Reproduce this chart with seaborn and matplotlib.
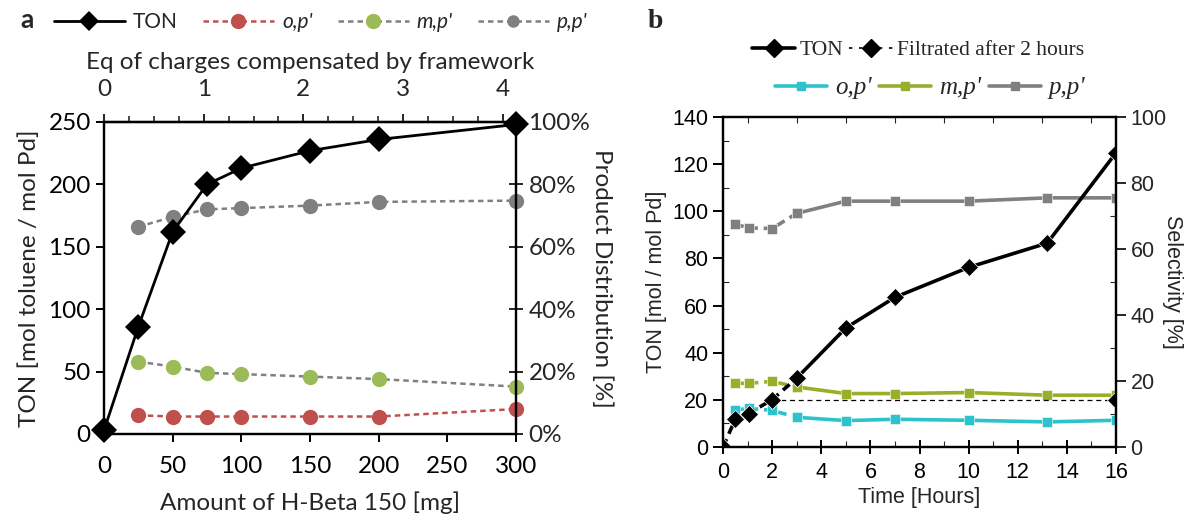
import numpy as np
import pandas as pd
import matplotlib
matplotlib.use("Agg")
import matplotlib.pyplot as plt
import seaborn as sns
from matplotlib.lines import Line2D
from matplotlib.ticker import MultipleLocator, PercentFormatter

# ---------------- data: panel a ----------------
mg_ton = [0, 25, 50, 75, 100, 150, 200, 300]
ton_a = [3, 86, 162, 200, 213, 227, 236, 248]
mg_dist = [25, 50, 75, 100, 150, 200, 300]
op_a = [6.0, 5.6, 5.6, 5.6, 5.6, 5.6, 8.0]
mp_a = [23.2, 21.6, 19.6, 19.2, 18.4, 17.6, 15.2]
pp_a = [66.4, 69.6, 72.0, 72.4, 73.2, 74.4, 74.8]
MG_PER_EQ = 72.6
labels_a = ["TON", "o,p'", "m,p'", "p,p'"]

# ---------------- data: panel b ----------------
t_ton = [0, 0.5, 1.05, 2, 3, 5, 7, 10, 13.2, 16]
ton_b = [0, 11.8, 14.2, 20.1, 29.2, 50.5, 63.5, 76.2, 86.5, 124.8]
t_filt = [0, 0.5, 1.05, 2, 16]
ton_filt = [0, 11.8, 14.2, 20.1, 20.1]
t_sel = [0.5, 1.05, 2, 3, 5, 7, 10, 13.2, 16]
op_b = [11.2, 11.7, 11.1, 9.0, 8.0, 8.4, 8.1, 7.6, 8.1]
mp_b = [19.3, 19.3, 19.9, 18.2, 16.2, 16.2, 16.5, 15.7, 15.7]
pp_b = [67.5, 66.4, 66.2, 70.8, 74.5, 74.5, 74.5, 75.5, 75.5]
labels_b = ["TON", "Filtrated after 2 hours", "o,p'", "m,p'", "p,p'"]

sns.set_theme(style="ticks")
plt.rcParams["font.family"] = ["Lato", "DejaVu Sans"]
plt.rcParams["axes.linewidth"] = 1.6

fig = plt.figure(figsize=(11.93, 5.18), dpi=100)

# ================= panel a =================
FA = ["Lato", "DejaVu Sans"]
fs_a = 17.5
axa = fig.add_axes([104/1193, 1-434/518, (516-104)/1193, (434-122)/518])
axa2 = axa.twinx()
axa.set_zorder(axa2.get_zorder() + 1)
axa.patch.set_visible(False)

RED = "#C0504D"
GREEN = "#9BBB59"
GREY = "#808080"

dash_a = (2.2, 1.6)
sns.lineplot(x=mg_dist, y=op_a, ax=axa2, color=RED, marker="o", markersize=11,
             markeredgewidth=0, linewidth=1.8, linestyle=(0, dash_a), clip_on=False)
sns.lineplot(x=mg_dist, y=mp_a, ax=axa2, color=GREY, marker="o", markersize=11,
             markerfacecolor=GREEN, markeredgewidth=0, linewidth=1.8, linestyle=(0, dash_a),
             clip_on=False)
sns.lineplot(x=mg_dist, y=pp_a, ax=axa2, color=GREY, marker="o", markersize=11,
             markerfacecolor=GREY, markeredgewidth=0, linewidth=1.8, linestyle=(0, dash_a),
             clip_on=False)
sns.lineplot(x=mg_ton, y=ton_a, ax=axa, color="black", marker="D", markersize=13,
             markeredgewidth=0, linewidth=2.0, clip_on=False, zorder=5)

axa.set_xlim(0, 300)
axa.set_ylim(0, 250)
axa2.set_ylim(0, 100)
axa.set_xticks(np.arange(0, 301, 50))
axa.set_yticks(np.arange(0, 251, 50))
axa2.set_yticks(np.arange(0, 101, 20))
axa2.yaxis.set_major_formatter(PercentFormatter(decimals=0))
for a in (axa, axa2):
    for s in a.spines.values():
        s.set_visible(True)
        s.set_color("black")
        s.set_linewidth(1.6)
axa.tick_params(axis="both", direction="out", length=6, width=1.4, labelsize=fs_a, colors="black")
axa.tick_params(axis="x", pad=10)
axa2.tick_params(axis="y", direction="inout", length=10, width=1.4, labelsize=fs_a, pad=4)
for lab in axa.get_xticklabels() + axa.get_yticklabels() + axa2.get_yticklabels():
    lab.set_family(FA)

secx = axa.secondary_xaxis("top", functions=(lambda m: m / MG_PER_EQ, lambda e: e * MG_PER_EQ))
secx.set_xticks([0, 1, 2, 3, 4])
secx.xaxis.set_minor_locator(MultipleLocator(0.25))
secx.tick_params(axis="x", which="major", direction="out", length=6, width=1.4, labelsize=fs_a, pad=10)
secx.tick_params(axis="x", which="minor", direction="out", length=4, width=1.2)
secx.spines["top"].set_linewidth(1.6)
for lab in secx.get_xticklabels():
    lab.set_family(FA)
secx.set_xlabel("Eq of charges compensated by framework", fontsize=fs_a, family=FA, labelpad=7)

axa.set_xlabel("Amount of H-Beta 150 [mg]", fontsize=fs_a, family=FA, labelpad=10)
axa.set_ylabel("TON [mol toluene / mol Pd]", fontsize=fs_a, family=FA, labelpad=6)
axa2.set_ylabel("Product Distribution [%]", fontsize=fs_a, family=FA, rotation=270, labelpad=16)

handles_a = [
    Line2D([], [], color="black", marker="D", markersize=10, linewidth=2.0, markeredgewidth=0),
    Line2D([], [], color=RED, marker="o", markersize=11, linewidth=1.8, linestyle=(0, dash_a), markeredgewidth=0),
    Line2D([], [], color=GREY, marker="o", markersize=11, markerfacecolor=GREEN, linewidth=1.8, linestyle=(0, dash_a), markeredgewidth=0),
    Line2D([], [], color=GREY, marker="o", markersize=9, markerfacecolor=GREY, linewidth=1.8, linestyle=(0, dash_a), markeredgewidth=0),
]
lega = fig.legend(handles_a, labels_a, loc="center left", bbox_to_anchor=(54/1193, 1-22/518),
                  ncol=4, frameon=False, handlelength=3.4, columnspacing=1.2, handletextpad=0.4,
                  borderaxespad=0, borderpad=0, prop={"family": FA, "size": 15})
for i, t in enumerate(lega.get_texts()):
    if i > 0:
        t.set_fontstyle("italic")
fig.text(20/1193, 1-20/518, "a", fontsize=19, fontweight="bold", family=FA, va="center", ha="left")

# ================= panel b =================
FB = ["Liberation Sans", "DejaVu Sans"]
FS = ["Liberation Serif", "DejaVu Serif"]
fs_b = 15.5
axb = fig.add_axes([723/1193, 1-447/518, (1116-723)/1193, (447-117)/518])
axb2 = axb.twinx()
axb.set_zorder(axb2.get_zorder() + 1)
axb.patch.set_visible(False)

CYAN = "#2CC3CC"
OLIVE = "#96B02A"
GREYB = "#808080"
dash_b = (2.4, 1.6)

# index where the solid part begins (t = 3 h)
k_sel = t_sel.index(3)
k_ton = t_ton.index(3)

for yv, col in ((op_b, CYAN), (mp_b, OLIVE), (pp_b, GREYB)):
    sns.lineplot(x=t_sel[:k_sel + 1], y=yv[:k_sel + 1], ax=axb2, color=col, linewidth=2.6,
                 linestyle=(0, dash_b), marker="s", markersize=7, markeredgecolor="white",
                 markeredgewidth=0.4, clip_on=False)
    sns.lineplot(x=t_sel[k_sel:], y=yv[k_sel:], ax=axb2, color=col, linewidth=2.6,
                 marker="s", markersize=7, markeredgecolor="white", markeredgewidth=0.4,
                 clip_on=True)

sns.lineplot(x=t_filt[-2:], y=ton_filt[-2:], ax=axb, color="black", linewidth=0.9,
             linestyle=(0, (4, 3)), marker="D", markersize=9, markeredgecolor="white",
             markeredgewidth=0.5)
sns.lineplot(x=t_ton[:k_ton + 1], y=ton_b[:k_ton + 1], ax=axb, color="black", linewidth=2.6,
             linestyle=(0, dash_b), marker="D", markersize=9, markeredgecolor="white",
             markeredgewidth=0.5)
sns.lineplot(x=t_ton[k_ton:], y=ton_b[k_ton:], ax=axb, color="black", linewidth=2.6,
             marker="D", markersize=9, markeredgecolor="white", markeredgewidth=0.5)

axb.set_xlim(0, 16)
axb.set_ylim(0, 140)
axb2.set_ylim(0, 100)
axb.set_xticks(np.arange(0, 17, 2))
axb.xaxis.set_minor_locator(MultipleLocator(1))
axb.set_yticks(np.arange(0, 141, 20))
axb.yaxis.set_minor_locator(MultipleLocator(10))
axb2.set_yticks(np.arange(0, 101, 20))
axb2.yaxis.set_minor_locator(MultipleLocator(10))
for a in (axb, axb2):
    for s in a.spines.values():
        s.set_visible(True)
        s.set_color("black")
        s.set_linewidth(1.6)
axb.tick_params(axis="both", which="major", direction="out", length=7, width=1.4,
                labelsize=fs_b, colors="black", top=False)
axb.tick_params(axis="x", which="major", direction="inout", length=10, pad=6)
axb.tick_params(axis="both", which="minor", direction="in", length=4, width=0.8, top=True)
axb2.tick_params(axis="y", which="major", direction="out", length=7, width=1.4, labelsize=fs_b)
axb2.tick_params(axis="y", which="minor", direction="in", length=4, width=0.8)
for lab in axb.get_xticklabels() + axb.get_yticklabels() + axb2.get_yticklabels():
    lab.set_family(FB)
axb.set_xlabel("Time [Hours]", fontsize=fs_b, family=FB, labelpad=3)
axb.set_ylabel("TON [mol / mol Pd]", fontsize=fs_b, family=FB, labelpad=4)
axb2.set_ylabel("Selectivity [%]", fontsize=fs_b, family=FB, rotation=270, labelpad=12)

h_ton = Line2D([], [], color="black", marker="D", markersize=9, linewidth=2.6)
h_filt = Line2D([], [], color="black", marker="D", markersize=9, linewidth=1.2, linestyle=(0, (2, 4)))
legb1 = fig.legend([h_ton, h_filt], labels_b[:2], loc="center", bbox_to_anchor=(918/1193, 1-50/518),
                   ncol=2, frameon=False, handlelength=2.0, columnspacing=0.3, handletextpad=0.2,
                   prop={"family": FS, "size": 15.5})
hs = [Line2D([], [], color=c, marker="s", markersize=6, linewidth=2.6) for c in (CYAN, OLIVE, GREYB)]
legb2 = fig.legend(hs, labels_b[2:], loc="center", bbox_to_anchor=(930/1193, 1-88/518),
                   ncol=3, frameon=False, handlelength=2.1, columnspacing=0.3, handletextpad=0.3,
                   prop={"family": FS, "size": 18, "style": "italic"})
fig.text(648/1193, 1-22/518, "b", fontsize=20, fontweight="bold", family=FS, va="center", ha="left")

fig.savefig("out.png", dpi=100)
